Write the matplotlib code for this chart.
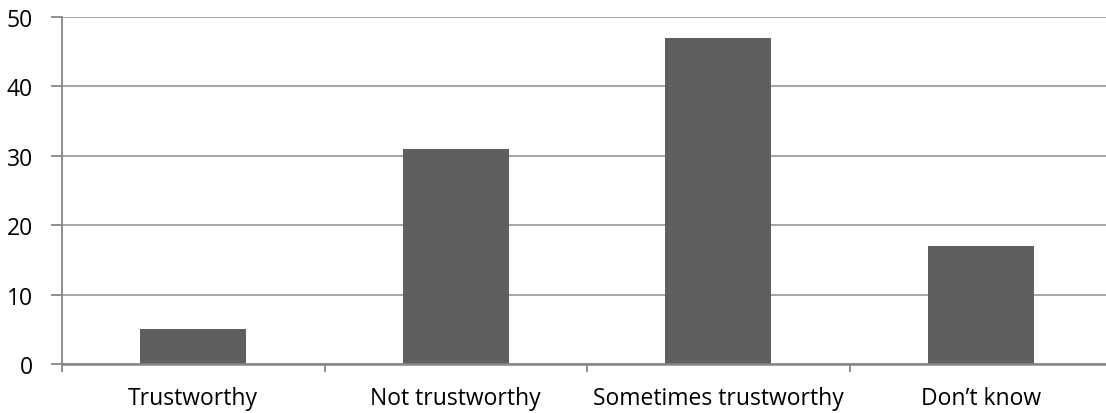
import matplotlib
matplotlib.use("Agg")
import matplotlib.pyplot as plt

categories = ["Trustworthy", "Not trustworthy", "Sometimes trustworthy", "Don\u2019t know"]
values = [5, 31, 47, 17]
yticks = [0, 10, 20, 30, 40, 50]

plt.rcParams['font.family'] = ['Open Sans', 'DejaVu Sans']

W, H = 1106, 414
fig = plt.figure(figsize=(W / 100, H / 100), dpi=100)
ax = fig.add_axes([62 / W, 49 / H, 1050 / W, 347 / H])

x = list(range(len(categories)))
ax.bar(x, values, width=0.404, color="#5f5f5f", zorder=3)

ax.set_xlim(-0.5, len(categories) - 0.5)
ax.set_ylim(0, 50)
ax.set_yticks(yticks)
ax.set_yticklabels([str(v) for v in yticks])
ax.yaxis.grid(True, color="#a6a6a6", linewidth=1.4, zorder=0)

# category labels at centers, ticks at boundaries
ax.set_xticks(x)
ax.set_xticklabels(categories)
ax.tick_params(axis="x", which="major", length=0, pad=16, labelsize=16.5, colors="black")
ax.set_xticks([i - 0.5 for i in range(len(categories) + 1)], minor=True)
ax.tick_params(axis="x", which="minor", length=6, width=1.3, color="#878787")
ax.tick_params(axis="y", length=8, width=1.3, color="#878787", pad=13, labelsize=16.5)

for s in ["top", "right"]:
    ax.spines[s].set_visible(False)
ax.spines["left"].set_color("#878787")
ax.spines["left"].set_linewidth(1.3)
ax.spines["bottom"].set_color("#878787")
ax.spines["bottom"].set_linewidth(1.8)
ax.spines["bottom"].set_zorder(4)

fig.savefig("out.png", dpi=100)
